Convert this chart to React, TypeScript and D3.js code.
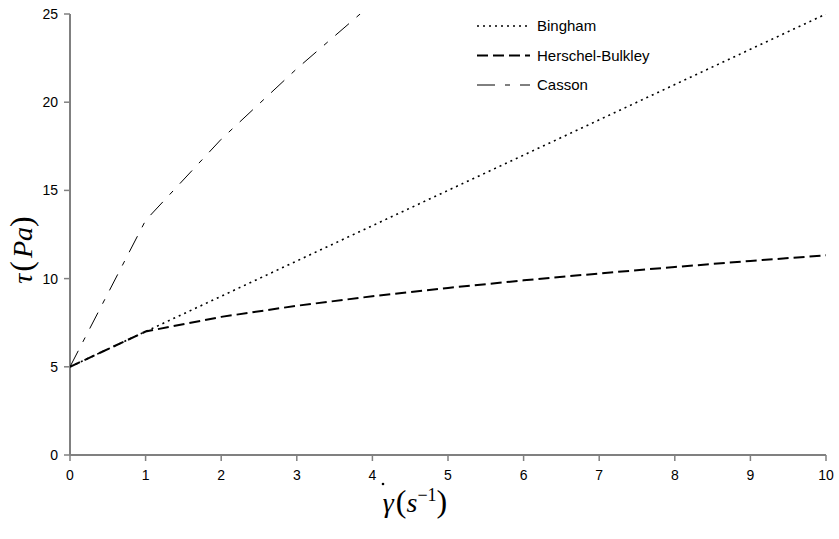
import React from "react";
import * as d3 from "d3";

const gammaValues = [0, 1, 2, 3, 4, 5, 6, 7, 8, 9, 10];
const binghamValues = [5, 7, 9, 11, 13, 15, 17, 19, 21, 23, 25];
const herschelValues = [5, 7, 7.83, 8.46, 9, 9.47, 9.9, 10.29, 10.66, 11, 11.32];
const cassonGamma = [0, 1, 2, 3, 4];
const cassonValues = [5, 13.3, 17.9, 21.9, 25.6];
const xTicks = [0, 1, 2, 3, 4, 5, 6, 7, 8, 9, 10];
const yTicks = [0, 5, 10, 15, 20, 25];
const seriesNames = ["Bingham", "Herschel-Bulkley", "Casson"];

const W = 839, H = 539;
const m = { left: 70, right: 826, top: 14, bottom: 455 };

export default function App() {
  const x = d3.scaleLinear().domain([0, 10]).range([m.left, m.right]);
  const y = d3.scaleLinear().domain([0, 25]).range([m.bottom, m.top]);
  const line = d3.line<[number, number]>().x(d => x(d[0])).y(d => y(d[1]));
  const bing = line(gammaValues.map((g, i) => [g, binghamValues[i]]));
  const hb = line(gammaValues.map((g, i) => [g, herschelValues[i]]));
  const cas = line(cassonGamma.map((g, i) => [g, cassonValues[i]]));
  const styles = [
    { dash: "2,4", w: 1.6 },
    { dash: "11,5", w: 2 },
    { dash: "18,10,5,10", w: 1 },
  ];
  const paths = [bing, hb, cas];
  const axisColor = "#808080";
  const serif = "Liberation Serif, Times New Roman";
  return (
    <svg width={W} height={H} style={{ position: "absolute", left: 0, top: 0 }}>
      <defs>
        <clipPath id="plot">
          <rect x={m.left} y={m.top} width={m.right - m.left} height={m.bottom - m.top} />
        </clipPath>
      </defs>
      <rect width={W} height={H} fill="white" />
      <line x1={m.left} x2={m.left} y1={m.top} y2={m.bottom} stroke={axisColor} strokeWidth={2} />
      <line x1={m.left} x2={m.right} y1={m.bottom} y2={m.bottom} stroke={axisColor} strokeWidth={2} />
      {yTicks.map(t => (
        <g key={"y" + t}>
          <line x1={m.left - 6} x2={m.left} y1={y(t)} y2={y(t)} stroke={axisColor} strokeWidth={1.5} />
          <text x={m.left - 12} y={y(t)} dy="0.35em" textAnchor="end" fontFamily="Liberation Sans, Arial" fontSize={14}>{t}</text>
        </g>
      ))}
      {xTicks.map(t => (
        <g key={"x" + t}>
          <line x1={x(t)} x2={x(t)} y1={m.bottom} y2={m.bottom + 6} stroke={axisColor} strokeWidth={1.5} />
          <text x={x(t)} y={m.bottom + 20} dy="0.35em" textAnchor="middle" fontFamily="Liberation Sans, Arial" fontSize={14}>{t}</text>
        </g>
      ))}
      <g clipPath="url(#plot)">
        {paths.map((p, i) => (
          <path key={i} d={p || ""} fill="none" stroke="black" strokeWidth={styles[i].w} strokeDasharray={styles[i].dash} />
        ))}
      </g>
      {seriesNames.map((n, i) => (
        <g key={n}>
          <line x1={477} x2={530} y1={26 + i * 29.5} y2={26 + i * 29.5} stroke="black" strokeWidth={styles[i].w} strokeDasharray={styles[i].dash} />
          <text x={537} y={26 + i * 29.5} dy="0.35em" fontFamily="Liberation Sans, Arial" fontSize={15}>{n}</text>
        </g>
      ))}
      <text transform="translate(32,250) rotate(-90)" textAnchor="middle" fontFamily={serif} fontSize={28}>
        <tspan fontStyle="italic">τ</tspan><tspan fontSize={32} dx={2}>(</tspan><tspan fontStyle="italic" dx={3}>Pa</tspan><tspan fontSize={32}>)</tspan>
      </text>
      <text x={415} y={512} textAnchor="middle" fontFamily={serif} fontSize={28}>
        <tspan fontStyle="italic">γ</tspan><tspan fontSize={32} dx={2}>(</tspan><tspan fontStyle="italic">s</tspan><tspan fontSize={18} dy={-11}>−1</tspan><tspan fontSize={32} dy={11}>)</tspan>
      </text>
      <circle cx={383} cy={484} r={1.3} fill="black" />
    </svg>
  );
}
